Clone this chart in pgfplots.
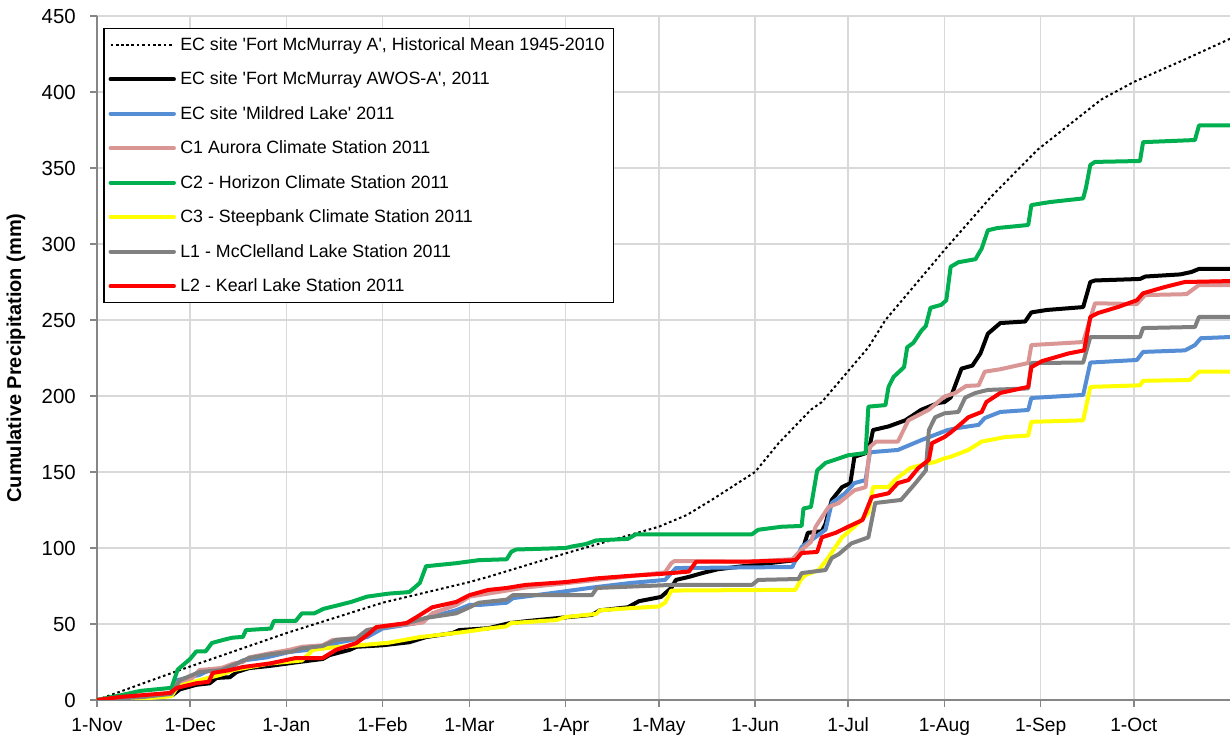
\documentclass[border=0pt]{standalone}
\usepackage{fontspec}
\setmainfont{Liberation Sans}
\usepackage{pgfplots}
\pgfplotsset{compat=1.18}

\definecolor{axisgrey}{HTML}{868686}
\definecolor{gridgrey}{HTML}{D9D9D9}
\definecolor{seriesblue}{HTML}{558ED5}
\definecolor{seriespink}{HTML}{D99694}
\definecolor{seriesgreen}{HTML}{00B050}
\definecolor{seriesyellow}{HTML}{FFFF00}
\definecolor{seriesgrey}{HTML}{808080}
\definecolor{seriesred}{HTML}{FF0000}

\pgfplotsset{
  station/.style={line width=2pt, line join=round, line cap=round},
}

\begin{document}
\begin{tikzpicture}
\begin{axis}[
  width=566.5pt, height=342pt, scale only axis,
  xmin=0, xmax=365, ymin=0, ymax=450,
  axis x line*=bottom, axis y line*=left,
  axis line style={-, draw=axisgrey, line width=0.75pt},
  xtick={0,30,61,92,120,151,181,212,242,273,304,334},
  xticklabels={1-Nov,1-Dec,1-Jan,1-Feb,1-Mar,1-Apr,1-May,1-Jun,1-Jul,1-Aug,1-Sep,1-Oct},
  ytick={0,50,...,450},
  grid=major,
  major grid style={draw=gridgrey, line width=0.75pt},
  tick align=outside, major tick length=3.5pt,
  tick style={draw=axisgrey, line width=0.75pt},
  xticklabel style={font=\fontsize{9.6}{11}\selectfont, yshift=-1.6pt,
    text height=7pt, text depth=2pt},
  yticklabel style={font=\fontsize{10.2}{12}\selectfont, xshift=-3.6pt},
  /pgf/number format/assume math mode=true,
  ylabel={Cumulative Precipitation (mm)},
  every axis y label/.style={at={(axis description cs:0,0.5)}, xshift=-40.5pt,
    rotate=90, anchor=center, font=\bfseries\fontsize{10}{12}\selectfont},
  legend cell align=left,
  legend image code/.code={\path (0pt,0pt) -- (7.7pt,0pt);
    \draw[#1] (7.7pt,0pt) -- (31.7pt,0pt);},
  legend style={at={(0.0056,0.9825)}, anchor=north west,
    draw=black, line width=0.6pt, fill=white,
    font=\fontsize{8.9}{10}\selectfont, inner xsep=2.3pt, inner ysep=2.8pt,
    row sep=6.75pt,
    nodes={inner xsep=2.2pt, inner ysep=0pt, text height=8pt, text depth=2.5pt}},
]

\addplot[black, line width=1pt, dash pattern=on 1.3pt off 1.4pt] coordinates {
(0,0) (26.7,19.7) (61,44) (92,64) (120,77.6) (126,81) (151,96.5) (169,107)
(181,114) (190,121.7) (198,131.6) (212,150) (219.6,169) (230,191) (233.5,196)
(248.5,232) (254,250) (273,296) (288,331) (303,362) (323.5,395) (334,406.6)
(350,421) (365,435)};
\addlegendentry{EC site \textquotesingle Fort McMurray A\textquotesingle, Historical Mean 1945-2010}

\addplot[station, black] coordinates {
(0,0) (7,0.5) (15,1.3) (24.4,3.3) (26.7,7) (32,10) (36.3,11) (38.5,14.5)
(42.8,15) (45,18.4) (49,21) (55.6,22.4) (65,25) (72.7,27) (75,29.6) (81.4,33)
(83.6,35) (92,36) (100.6,38) (106,41.4) (114.5,44) (116.7,46) (126,47.2)
(133,50.6) (139,52) (149,54) (159.5,56) (162,59) (171,61) (174.6,65)
(181.7,67.8) (185,73.7) (186.5,79) (190.7,81) (195,83.5) (200,86) (212,89)
(225,92) (227,97) (229,110) (233.5,111) (234.7,116) (236.7,131.6) (240,140)
(242.7,142.7) (244,160) (248.5,163) (250,177.6) (255,180) (260.4,184)
(265.6,191) (271,195.4) (273,196) (275,199) (278.5,218) (282,220) (284.6,228)
(287,241) (291,248) (299,249) (301,255) (306,256.6) (317.7,258.5) (320,275)
(321.5,276) (336,277) (337.7,278.6) (349,280) (352.6,281.6) (355,283.6)
(365,283.6)};
\addlegendentry{EC site \textquotesingle Fort McMurray AWOS-A\textquotesingle, 2011}

\addplot[station, seriesblue] coordinates {
(0,0) (7,1) (15,2) (24,4) (25.7,13) (33,16.5) (36.3,19.7) (43,21.7) (47,26)
(54.6,28) (62,31.6) (72.7,34) (77,37.5) (87,41.4) (92,47) (103,50.6) (106,54)
(115.7,59) (120,62.5) (123,62.5) (132,64) (134,67) (149,71) (160.8,74.3)
(172,77) (183,79) (186.5,86.8) (224,87.5) (227,100.7) (230,105) (234.7,112)
(236.7,129.6) (241,136) (244,142.7) (247.6,144.7) (249,163) (258,164.5)
(265.6,171) (274,177.6) (277.5,179) (284,181) (286,185.5) (291,189.5)
(300,190.8) (301,198.7) (317.7,200.7) (320,222) (335,223.7) (337,229)
(350.5,230) (353.7,233.5) (355.6,238) (365,238.8)};
\addlegendentry{EC site \textquotesingle Mildred Lake\textquotesingle{} 2011}

\addplot[station, seriespink] coordinates {
(0,0) (7,1) (15,2) (24,5) (25.7,11) (30,13) (33,19.7) (40,21) (44,24) (47,25)
(49,28) (55.6,30.7) (62,33) (66,35) (72.7,36) (76,39.5) (83.6,40.6) (87,46)
(92,48) (105,51) (108,57) (115.7,62.5) (120,68) (123,69) (132,72) (138,74)
(161,79) (183,84) (185,90) (186,91.4) (209,91) (224,92.6) (226,97) (230,104)
(231.5,114) (235.7,127) (239,129.6) (244,138) (247.6,140) (249,166.5)
(251,170) (258,170) (261.4,184) (268,191) (273,199.6) (276.5,202)
(280,206.6) (284,207) (286,216) (291,217.6) (300,221.7) (301,233.5)
(317.7,235.5) (321.5,261) (335,260.5) (337.6,266.4) (351,267) (355,273)
(365,273)};
\addlegendentry{C1 Aurora Climate Station 2011}

\addplot[station, seriesgreen] coordinates {
(0,0) (7.4,3) (14,6) (24,8) (26,20) (30,27) (32,32) (35,32) (37,37.5)
(40.6,39.5) (43.6,41) (47,41.5) (48,46) (56,47) (57,52) (64,52) (66,57) (70,57)
(73,60) (78,62.5) (82,64.6) (87,68) (94,70) (100.6,71) (104,77) (106,88)
(115.7,90) (123,92) (132,92.6) (133.5,97.6) (135,99) (151,100) (153,101)
(157.5,102.6) (160.8,105) (171,106) (173.6,109) (211,109) (213,112)
(220.6,114) (227,114.5) (227.6,126) (230,127) (232,151) (234.7,156)
(242,161) (247.6,162.5) (248.5,193) (254,194) (255,206) (256.6,212.5)
(260,219) (261,232) (263,235) (265.6,243) (267,246) (268.5,258) (272,260)
(273.6,263) (275,285) (277.5,288) (283,290) (285,297) (287,309) (290,310.5)
(300,312.5) (301,325.6) (307,327.6) (317.7,330) (318.6,337) (320,352)
(321.5,354) (336,354.6) (337,367) (353.7,368.4) (355,378) (365,378)};
\addlegendentry{C2 - Horizon Climate Station 2011}

\addplot[station, seriesyellow] coordinates {
(0,0) (7,0.5) (15,1) (24,2.5) (26,9) (33,13) (40,16.7) (44,19.7) (55.6,24)
(66,26) (69.6,33) (75,34.4) (81.4,35.5) (89,36.8) (94,37.7) (104,41.4)
(117,44.4) (126,47) (131.8,48.4) (133.4,50.6) (148,52.6) (151,54.6)
(160.8,56.6) (162,59) (172.4,60.5) (181,61.5) (183,64) (185,72) (225,72.5)
(226.7,79) (228,82) (232.5,85.5) (235.7,94) (240,107) (244,114) (248.5,123)
(250,140) (255,140) (257,144.7) (262,152.6) (265.6,154.6) (270,156.6)
(273,159) (275,160) (280.7,164.5) (285,170) (292.6,173) (300,174) (301,183)
(317.7,184) (320,206) (336,207) (337,210) (352,210.5) (355,216) (365,216)};
\addlegendentry{C3 - Steepbank Climate Station 2011}

\addplot[station, seriesgrey] coordinates {
(0,0) (7,1) (15,2) (24,4) (26.7,13) (33,18.4) (40,19.7) (45,24) (49,27.6)
(55.6,30) (63,32) (66,34) (72.7,35.5) (77,39.5) (83.6,40.6) (87,46) (92,48)
(100,50.6) (106,54) (115.7,57) (120,61) (123,64) (132,66) (134,69) (159.5,69)
(161,73.7) (185,75.7) (211,75.7) (213,79) (226,79.6) (227,83.5) (234.7,85.5)
(236.7,93.4) (239,96) (243,103) (248.5,107) (250.7,129.6) (259,131.6)
(263.7,142.7) (267,151) (268,177.6) (270,186) (273,188.6) (277.5,189.5)
(279.7,199) (283,202) (287,204) (300,205) (301,221.7) (317.7,222) (320,238.8)
(336,238.8) (337,244.7) (353.7,245.4) (355,252) (365,252)};
\addlegendentry{L1 - McClelland Lake Station 2011}

\addplot[station, seriesred] coordinates {
(0,0) (7.4,2) (23.5,4.6) (25.7,7.9) (27.8,9) (32,11) (36,12) (37.3,17.8)
(42.8,19.7) (47,21.7) (55.6,24) (64,27.6) (72.7,27.6) (77,33) (83.6,37.5)
(87.8,44) (90,48) (99.7,50.6) (103,54.6) (108,61) (115.7,64.5) (120,69)
(126,72.4) (132,73.7) (138,75.7) (151,77.6) (160.8,80) (171,81.6) (182,83)
(190.7,84.5) (193,91) (209,91) (225,92) (227,96.7) (232,97.4) (233.5,107)
(238,110) (242,114) (246.6,118.4) (249.6,133.6) (255,136) (258,142.7)
(261.4,144.7) (264.6,152.6) (268,158) (269,169) (273,173) (275,176)
(278.5,182) (280.7,186) (285,189.5) (286.5,196) (291,202) (300,206) (301,219)
(304.5,223) (313,228) (318,230) (320,252) (322.5,254.6) (329,258.6) (335,263)
(337,267.6) (344,271.7) (350.5,275) (365,275.6)};
\addlegendentry{L2 - Kearl Lake Station 2011}

\end{axis}
\pgfresetboundingbox
\path ([xshift=-48.5pt,yshift=-19pt]current axis.south west)
  rectangle ([yshift=8pt]current axis.north east);
\end{tikzpicture}
\end{document}
